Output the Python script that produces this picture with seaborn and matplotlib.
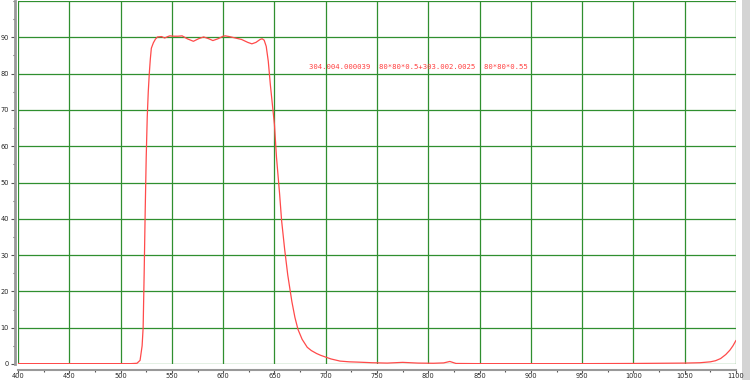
import matplotlib
matplotlib.use("Agg")
import matplotlib.pyplot as plt
import seaborn as sns
import pandas as pd
from matplotlib.patches import Rectangle
from matplotlib.ticker import MultipleLocator

wavelength = [400, 510, 516, 519, 521, 522, 523, 524, 525, 526, 527, 528, 529, 530,
              532, 534, 536, 540, 543, 546, 548, 552, 556, 560, 565, 571, 576, 581,
              586, 590, 595, 600, 602, 606, 612, 618, 624, 628, 632, 636, 638, 640,
              642, 644, 646, 648, 650, 652, 655, 657, 660, 663, 667, 670, 673, 677,
              682, 686, 691, 695, 700, 705, 714, 723, 733, 745, 760, 775, 790, 805,
              815, 821, 827, 850, 900, 950, 1000, 1050, 1065, 1075, 1080, 1085, 1090,
              1094, 1097, 1100]
transmittance = [0.1, 0.1, 0.2, 1.0, 5.0, 10.0, 25.0, 42.0, 57.0, 68.0, 75.0, 80.0, 84.0, 87.0,
                 88.5, 89.5, 90.1, 90.2, 89.8, 90.2, 90.4, 90.3, 90.3, 90.4, 89.6, 88.9, 89.6, 90.1,
                 89.6, 89.1, 89.6, 90.3, 90.4, 90.2, 89.8, 89.4, 88.6, 88.2, 88.6, 89.4, 89.6, 89.2,
                 87.5, 83.4, 77.0, 71.5, 66.0, 57.0, 47.0, 39.5, 31.5, 24.5, 17.2, 12.8, 9.5, 6.8,
                 4.6, 3.7, 2.9, 2.4, 1.9, 1.4, 0.8, 0.6, 0.5, 0.35, 0.25, 0.45, 0.25, 0.2,
                 0.3, 0.7, 0.15, 0.1, 0.1, 0.1, 0.15, 0.25, 0.35, 0.6, 0.9, 1.5, 2.6,
                 3.8, 5.0, 6.5]
x_ticks = list(range(400, 1101, 50))
y_ticks = list(range(0, 91, 10))
label_text = "304.004.000039  80*80*0.5+303.002.0025  80*80*0.55"

sns.set_style("white")
df = pd.DataFrame({"wl": wavelength, "T": transmittance})

fig = plt.figure(figsize=(7.5, 3.8), dpi=100)
fig.patch.set_facecolor("white")
fig.add_artist(Rectangle((742 / 750, 0), 8 / 750, 1, transform=fig.transFigure,
                         facecolor="#d4d4d4", edgecolor="none", zorder=0))
ax = fig.add_axes([18 / 750, 16 / 380, 718 / 750, 363 / 380])

ax.set_xlim(400, 1100)
ax.set_ylim(0, 100)
ax.set_xticks(x_ticks)
ax.set_yticks(y_ticks)
ax.xaxis.set_minor_locator(MultipleLocator(25))
ax.yaxis.set_minor_locator(MultipleLocator(5))

grid_color = "#2f8f2f"
for xv in x_ticks:
    ax.axvline(xv, color=grid_color, lw=0.9, zorder=1)
for yv in list(range(0, 101, 10)):
    ax.axhline(yv, color=grid_color, lw=0.9, zorder=1)

sns.lineplot(data=df, x="wl", y="T", ax=ax, color="#ff4a4a", lw=0.9, zorder=3)

ax.text(684, 81.8, label_text, color="#ff4040", fontsize=5.2,
        family="DejaVu Sans Mono", va="center", ha="left")

for s in ["top", "right"]:
    ax.spines[s].set_visible(False)
ax.spines["left"].set_position(("outward", 2))
ax.spines["bottom"].set_position(("outward", 4))
ax.spines["left"].set_color("#999999")
ax.spines["bottom"].set_color("#999999")
ax.spines["left"].set_linewidth(2)
ax.spines["bottom"].set_linewidth(1.5)
ax.tick_params(axis="x", which="major", labelsize=4.8, length=2, width=0.8,
               color="#555555", pad=0.3, direction="out", bottom=True)
ax.tick_params(axis="y", which="major", labelsize=4.8, length=3, width=0.8,
               color="#555555", pad=1.5, direction="out", left=True)
ax.tick_params(axis="both", which="minor", length=1.5, width=0.8, color="#555555",
               bottom=True, left=True)
ax.set_xlabel("")
ax.set_ylabel("")

fig.savefig("out.png", dpi=100)
